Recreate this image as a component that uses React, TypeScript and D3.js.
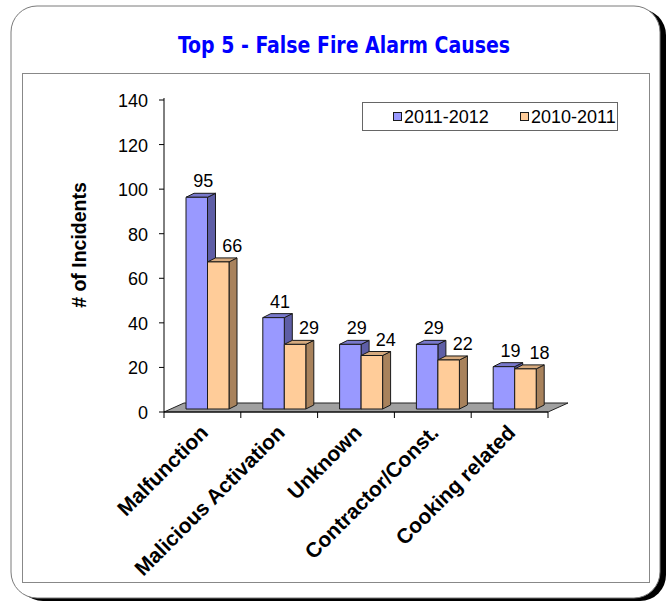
import React from "react";
import * as d3 from "d3";

const categories = ["Malfunction", "Malicious Activation", "Unknown", "Contractor/Const.", "Cooking related"];
const seriesNames = ["2011-2012", "2010-2011"];
const values2011_2012 = [95, 41, 29, 29, 19];
const values2010_2011 = [66, 29, 24, 22, 18];
const yTicks = [0, 20, 40, 60, 80, 100, 120, 140];

const frontColors = ["#9999FF", "#FFCC99"];
const sideColors = ["#5E5EA6", "#A8825C"];
const topColors = ["#7878CC", "#D6AA7E"];
const labelOffsets = [6.5, 14];

export default function App() {
  const W = 670, H = 602;
  const x = d3.scaleBand<string>().domain(categories).range([164, 548]).padding(0);
  const sub = d3.scaleBand<string>().domain(seriesNames).range([22, 65]).padding(0);
  const y = d3.scaleLinear().domain([0, 140]).range([412, 100]);
  const dx = 8, dy = -4;
  const lift = 3;
  const fdx = 20, fdy = -9;
  const y0 = y(0);
  const series = [values2011_2012, values2010_2011];
  const font = "'Liberation Sans', Arial, sans-serif";

  const bars: React.ReactNode[] = [];
  const labels: React.ReactNode[] = [];
  categories.forEach((c, ci) => {
    seriesNames.forEach((s, si) => {
      const v = series[si][ci];
      const bx = (x(c) as number) + (sub(s) as number);
      const w = sub.bandwidth();
      const yt = y(v) - lift;
      const yb = y0 - lift;
      bars.push(
        <g key={`b${ci}-${si}`} stroke="#1a1a1a" strokeWidth={1} strokeLinejoin="round">
          <polygon points={`${bx + w},${yt} ${bx + w + dx},${yt + dy} ${bx + w + dx},${yb + dy} ${bx + w},${yb}`} fill={sideColors[si]} />
          <polygon points={`${bx},${yt} ${bx + w},${yt} ${bx + w + dx},${yt + dy} ${bx + dx},${yt + dy}`} fill={topColors[si]} />
          <rect x={bx} y={yt} width={w} height={yb - yt} fill={frontColors[si]} />
        </g>
      );
      labels.push(
        <text key={`l${ci}-${si}`} x={bx + w / 2 + labelOffsets[si]} y={yt - 10} textAnchor="middle" fontSize={18} fontFamily={font} fill="#000">
          {v}
        </text>
      );
    });
  });

  const xEdges = [...categories.map((c) => x(c) as number), 548];

  return (
    <svg width={W} height={H} style={{ position: "absolute", left: 0, top: 0 }}>
      <rect x={0} y={0} width={W} height={H} fill="#fff" />
      {/* outer frame with shadow */}
      <rect x={17} y={9} width={649} height={592} rx={26} fill="#000" />
      <rect x={11} y={6} width={649} height={592} rx={26} fill="#fff" stroke="#7a7a7a" strokeWidth={1} />
      {/* title */}
      <text x={344} y={53} textAnchor="middle" fontSize={23} fontWeight="bold" fill="#0000FF"
        fontFamily="'Liberation Sans Narrow', 'DejaVu Sans Condensed', 'Arial Narrow', sans-serif"
        textLength={332} lengthAdjust="spacingAndGlyphs">
        Top 5 - False Fire Alarm Causes
      </text>
      {/* inner plot frame */}
      <rect x={22.5} y={73.5} width={627} height={509} fill="none" stroke="#888" strokeWidth={1} />
      {/* floor */}
      <polygon
        points={`164,${y0} 548,${y0} ${548 + fdx},${y0 + fdy} ${164 + fdx},${y0 + fdy}`}
        fill="#A0A0A0" stroke="#222" strokeWidth={1} />
      {/* y axis */}
      <line x1={164} x2={164} y1={y(140) - 2} y2={y0} stroke="#000" strokeWidth={1} />
      {yTicks.map((t) => (
        <g key={t}>
          <line x1={159} x2={164} y1={y(t)} y2={y(t)} stroke="#000" />
          <text x={148} y={y(t) + 1} textAnchor="end" dominantBaseline="central" fontSize={18} fontFamily={font}>{t}</text>
        </g>
      ))}
      {/* x axis */}
      <line x1={164} x2={548} y1={y0} y2={y0} stroke="#000" />
      {xEdges.map((e, i) => (
        <line key={i} x1={e} x2={e} y1={y0} y2={y0 + 6} stroke="#000" />
      ))}
      {bars}
      {labels}
      {categories.map((c) => {
        const cx = (x(c) as number) + x.bandwidth() / 2 + 7;
        const cy = 434;
        return (
          <text key={c} x={cx} y={cy} transform={`rotate(-45 ${cx} ${cy})`} textAnchor="end" fontSize={21} fontWeight="bold" fontFamily={font}>
            {c}
          </text>
        );
      })}
      {/* y title */}
      <text x={0} y={0} transform={`translate(86,245) rotate(-90)`} textAnchor="middle" fontSize={19.5} fontWeight="bold" fontFamily={font}>
        # of Incidents
      </text>
      {/* legend */}
      <rect x={362.5} y={102.5} width={255} height={28} fill="#fff" stroke="#666" strokeWidth={1} />
      {seriesNames.map((s, i) => {
        const lx = i === 0 ? 393 : 520;
        return (
          <g key={s}>
            <rect x={lx + 0.5} y={112.5} width={8} height={8} fill={frontColors[i]} stroke="#1a1a1a" strokeWidth={1} />
            <text x={lx + 11} y={123} fontSize={18} fontFamily={font}>{s}</text>
          </g>
        );
      })}
    </svg>
  );
}
